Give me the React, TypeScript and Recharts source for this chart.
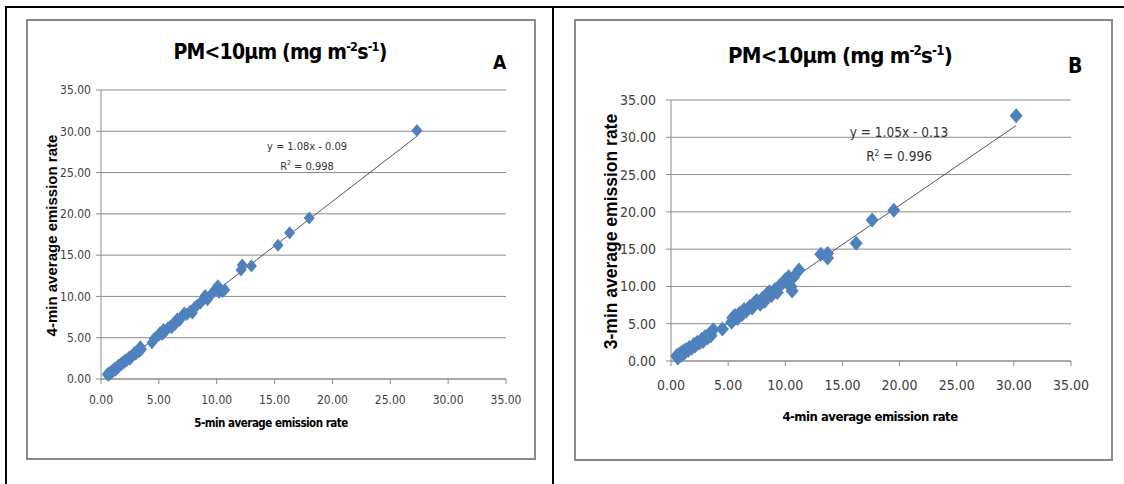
import { ScatterChart, Scatter, XAxis, YAxis, CartesianGrid, ReferenceLine } from "recharts";

// panel A: 5-min (x) vs 4-min (y) average emission rate
const panelAPoints = [
  [0.55, 0.6], [0.6, 0.45], [0.7, 0.75], [0.75, 0.55], [0.8, 0.8], [0.9, 0.95], [1.0, 0.85],
  [1.0, 1.05], [1.1, 1.1], [1.2, 1.3], [1.25, 1.05], [1.3, 1.35], [1.4, 1.45], [1.5, 1.4],
  [1.5, 1.65], [1.6, 1.6], [1.7, 1.85], [1.8, 1.8], [1.9, 2.05], [2.0, 2.0], [2.1, 2.3],
  [2.2, 2.2], [2.4, 2.6], [2.5, 2.4], [2.6, 2.8], [2.8, 2.9], [2.9, 3.2], [3.0, 3.0],
  [3.2, 3.5], [3.3, 3.3], [3.4, 3.9], [3.5, 3.6], [4.4, 4.4], [4.6, 4.9], [4.8, 5.1],
  [5.0, 5.3], [5.1, 5.6], [5.3, 5.4], [5.4, 6.0], [5.6, 5.8], [5.8, 6.2], [6.0, 6.4],
  [6.1, 6.2], [6.3, 6.8], [6.4, 6.6], [6.6, 7.3], [6.8, 7.1], [7.0, 7.6], [7.2, 8.0],
  [7.4, 7.8], [7.7, 8.2], [7.9, 8.0], [8.1, 8.7], [8.3, 8.9], [8.6, 9.2], [8.8, 9.6],
  [9.0, 10.1], [9.2, 9.6], [9.5, 10.2], [9.7, 10.5], [9.9, 10.9], [10.1, 11.3], [10.2, 10.5],
  [10.5, 10.6], [10.7, 10.8], [12.1, 13.2], [12.2, 13.8], [13.0, 13.7],
  [15.3, 16.2], [16.3, 17.7], [18.0, 19.5], [27.3, 30.1],
];

// panel B: 4-min (x) vs 3-min (y) average emission rate
const panelBPoints = [
  [0.5, 0.7], [0.6, 0.4], [0.7, 0.9], [0.8, 0.7], [0.9, 1.1], [1.0, 0.9], [1.1, 1.3],
  [1.2, 1.1], [1.3, 1.5], [1.5, 1.4], [1.6, 1.8], [1.8, 1.7], [2.0, 2.2], [2.1, 2.0],
  [2.3, 2.5], [2.5, 2.4], [2.7, 2.9], [2.8, 2.6], [3.0, 3.3], [3.2, 3.1], [3.4, 3.7],
  [3.5, 3.4], [3.7, 4.2], [4.5, 4.3], [5.3, 5.2], [5.4, 5.8], [5.6, 6.1], [5.8, 5.7],
  [6.0, 6.4], [6.2, 6.2], [6.4, 6.9], [6.6, 6.7], [6.9, 7.3], [7.1, 7.1], [7.3, 7.8],
  [7.5, 8.1], [7.8, 7.6], [8.0, 8.4], [8.2, 8.0], [8.4, 9.0], [8.6, 9.3], [8.8, 8.8],
  [9.1, 9.6], [9.3, 9.2], [9.5, 10.1], [9.8, 10.5], [10.0, 10.9], [10.2, 10.4],
  [10.3, 11.3], [10.5, 10.0], [10.6, 9.4], [10.7, 11.2], [11.2, 12.2], [13.1, 14.3],
  [13.7, 14.4], [13.7, 13.8], [16.2, 15.8], [17.6, 18.9], [19.5, 20.2], [30.2, 32.9],
];

const axisTicks = [0, 5, 10, 15, 20, 25, 30, 35];

const trendA = { slope: 1.08, intercept: -0.09, r2: "0.998" };
const trendB = { slope: 1.05, intercept: -0.13, r2: "0.996" };

const BLUE = "#4f81bd";
const GRID = "#8c8c8c";
const NARROW = '"Liberation Sans Narrow", "DejaVu Sans Condensed", sans-serif';

const toRows = (pts: number[][]) => pts.map(([x, y]) => ({ x, y }));

function diamond(hw: number, hh: number) {
  return (props: any) => {
    const { cx, cy } = props;
    return (
      <polygon
        points={`${cx},${cy - hh} ${cx + hw},${cy} ${cx},${cy + hh} ${cx - hw},${cy}`}
        fill={BLUE}
      />
    );
  };
}

interface PanelProps {
  left: number;
  width: number;
  points: number[][];
  trend: { slope: number; intercept: number; r2: string };
  margin: { top: number; right: number; bottom: number; left: number };
  tickFont: number;
  yTickMargin: number;
  xTickMargin: number;
  hw: number;
  hh: number;
}

function Panel({ left, width, points, trend, margin, tickFont, yTickMargin, xTickMargin, hw, hh }: PanelProps) {
  const data = toRows(points);
  const xs = points.map((p) => p[0]);
  const x0 = Math.min(...xs);
  const x1 = Math.max(...xs);
  const tick = { fontSize: tickFont, fill: "#404040", fontFamily: NARROW };
  return (
    <div style={{ position: "absolute", left, top: 0 }}>
      <ScatterChart width={width} height={484} margin={margin}>
        <CartesianGrid vertical={false} stroke={GRID} strokeWidth={1} />
        <XAxis
          type="number"
          dataKey="x"
          domain={[0, 35]}
          ticks={axisTicks}
          tickFormatter={(v: number) => v.toFixed(2)}
          stroke={GRID}
          tick={tick}
          tickSize={5}
          tickMargin={xTickMargin}
          height={30}
        />
        <YAxis
          type="number"
          dataKey="y"
          domain={[0, 35]}
          ticks={axisTicks}
          tickFormatter={(v: number) => v.toFixed(2)}
          stroke={GRID}
          tick={tick}
          tickSize={5}
          tickMargin={yTickMargin}
          width={60}
        />
        <Scatter data={data} shape={diamond(hw, hh)} isAnimationActive={false} />
        <ReferenceLine
          segment={[
            { x: x0, y: trend.slope * x0 + trend.intercept },
            { x: x1, y: trend.slope * x1 + trend.intercept },
          ]}
          stroke="#2a2a2a"
          strokeWidth={0.8}
        />
      </ScatterChart>
    </div>
  );
}

const abs = (o: any) => ({ position: "absolute" as const, whiteSpace: "nowrap" as const, ...o });

function Title({ cx, cy, size }: { cx: number; cy: number; size: number }) {
  return (
    <div
      style={abs({
        left: cx - 150,
        top: cy - size * 0.62,
        width: 300,
        textAlign: "center",
        fontFamily: NARROW,
        fontWeight: "bold",
        fontSize: size,
        letterSpacing: -0.8,
        lineHeight: 1.2,
        color: "#000",
      })}
    >
      PM&lt;10µm (mg m<sup style={{ fontSize: size * 0.6 }}>-2</sup>s<sup style={{ fontSize: size * 0.6 }}>-1</sup>)
    </div>
  );
}

function Eq({ cx, cy, size, trend }: { cx: number; cy: number; size: number; trend: any }) {
  const b = trend.intercept;
  return (
    <div
      style={abs({
        left: cx - 80,
        top: cy - size * 0.6,
        width: 160,
        textAlign: "center",
        fontFamily: NARROW,
        fontSize: size,
        lineHeight: `${size * 1.75}px`,
        color: "#333",
      })}
    >
      y = {trend.slope.toFixed(2)}x - {Math.abs(b).toFixed(2)}
      <br />
      R<sup style={{ fontSize: size * 0.6, lineHeight: 0 }}>2</sup> = {trend.r2}
    </div>
  );
}

export default function App() {
  return (
    <div style={{ position: "absolute", left: 0, top: 0, width: 1124, height: 484, background: "#fff", overflow: "hidden" }}>
      {/* table borders */}
      <div style={abs({ left: 5, top: 6, width: 1119, height: 2, background: "#000" })} />
      <div style={abs({ left: 5, top: 6, width: 2, height: 478, background: "#000" })} />
      <div style={abs({ left: 552, top: 6, width: 2, height: 478, background: "#000" })} />
      {/* chart boxes */}
      <div style={abs({ left: 26, top: 19, width: 506, height: 437, border: "2px solid #8a8a8a" })} />
      <div style={abs({ left: 574, top: 19, width: 535, height: 438, border: "2px solid #8a8a8a" })} />

      <Panel
        left={0}
        width={560}
        points={panelAPoints}
        trend={trendA}
        margin={{ top: 90, right: 54, bottom: 75, left: 41 }}
        tickFont={12}
        yTickMargin={5}
        xTickMargin={11}
        hw={5.5}
        hh={6.5}
      />
      <Panel
        left={560}
        width={564}
        points={panelBPoints}
        trend={trendB}
        margin={{ top: 100, right: 53, bottom: 93, left: 51 }}
        tickFont={14}
        yTickMargin={10}
        xTickMargin={14}
        hw={6.5}
        hh={7.5}
      />

      <Title cx={280} cy={52} size={21} />
      <Title cx={840} cy={57} size={22} />
      <div style={abs({ left: 493, top: 51, fontFamily: NARROW, fontWeight: "bold", fontSize: 19 })}>A</div>
      <div style={abs({ left: 1068, top: 54, fontFamily: NARROW, fontWeight: "bold", fontSize: 21 })}>B</div>

      <Eq cx={307} cy={144} size={11} trend={trendA} />
      <Eq cx={899} cy={129} size={13.5} trend={trendB} />

      {/* axis titles */}
      <div style={abs({ left: 271 - 100, top: 416, width: 200, textAlign: "center", fontFamily: NARROW, fontWeight: "bold", fontSize: 11.5, letterSpacing: -0.5 })}>
        5-min average emission rate
      </div>
      <div style={abs({ left: 870 - 110, top: 409, width: 220, textAlign: "center", fontFamily: NARROW, fontWeight: "bold", fontSize: 13, letterSpacing: -0.5 })}>
        4-min average emission rate
      </div>
      <div
        style={abs({
          left: 51 - 120,
          top: 236 - 9,
          width: 240,
          textAlign: "center",
          transform: "rotate(-90deg)",
          fontFamily: "Arial, 'Liberation Sans', sans-serif",
          fontWeight: "bold",
          fontSize: 15,
        })}
      >
        4-min average emission rate
      </div>
      <div
        style={abs({
          left: 611 - 130,
          top: 231 - 10,
          width: 260,
          textAlign: "center",
          transform: "rotate(-90deg)",
          fontFamily: "Arial, 'Liberation Sans', sans-serif",
          fontWeight: "bold",
          fontSize: 17.5,
        })}
      >
        3-min average emission rate
      </div>
    </div>
  );
}
